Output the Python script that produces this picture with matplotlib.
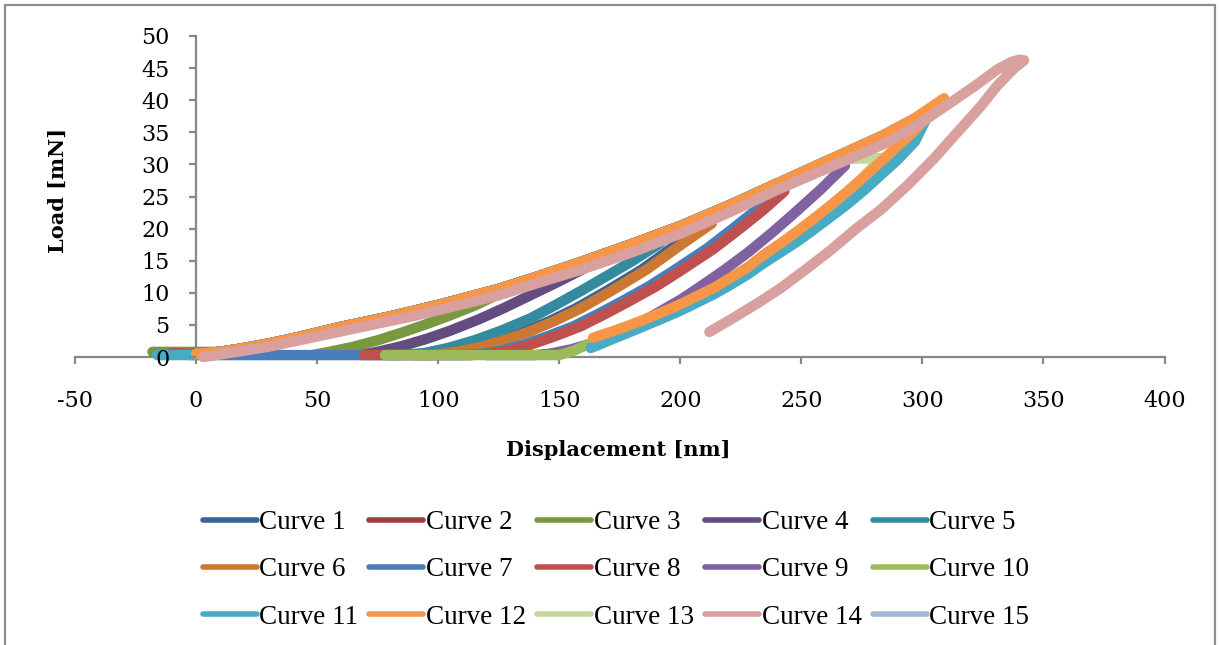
import matplotlib

matplotlib.use("Agg")
import matplotlib.pyplot as plt
from matplotlib.patches import Rectangle

# Upper loading branch shared by the indentation curves
LOAD_DISP = [0, 10, 20, 30, 40, 50, 60, 70, 80, 90, 100, 112, 125, 140, 159,
             180, 200, 220, 241, 262, 283, 296, 310]
LOAD_MN = [0.5, 0.8, 1.4, 2.1, 2.9, 3.8, 4.7, 5.5, 6.3, 7.2, 8.1, 9.3, 10.6,
           12.4, 14.8, 17.6, 20.4, 23.6, 27.2, 30.8, 34.4, 37.0, 40.3]

# Curve 14 has its own loading branch up to the deepest indent
C14_LOAD_DISP = [3, 10, 20, 30, 40, 50, 60, 70, 80, 90, 100, 112, 125, 140,
                 159, 180, 200, 220, 241, 262, 283, 296, 310, 322, 331, 337]
C14_LOAD_MN = [0.0, 0.4, 1.0, 1.6, 2.4, 3.2, 4.0, 4.8, 5.6, 6.4, 7.3, 8.4, 9.6,
               11.4, 13.6, 16.3, 19.2, 22.5, 26.2, 29.6, 33.0, 35.6, 39.2,
               42.3, 44.8, 46.0]

# Unloading branches, peak first
C1_DISP = [211, 198, 184, 170, 157, 146, 136, 126, 116, 106, 96]
C1_MN = [20.6, 17.4, 13.6, 10.4, 7.6, 5.6, 4.0, 2.7, 1.6, 0.8, 0.3]
C2_DISP = [242, 233, 223, 213, 199, 189, 178, 168, 158, 147, 137, 127, 118,
           112]
C2_MN = [25.6, 22.8, 19.8, 16.9, 13.4, 11.0, 8.7, 6.7, 4.8, 3.2, 1.9, 0.9,
         0.4, 0.3]
C3_DISP = [125, 115, 105, 95, 85, 75, 65, 55, 48]
C3_MN = [9.8, 8.0, 6.5, 5.1, 3.8, 2.6, 1.6, 0.8, 0.3]
C4_DISP = [163, 150, 138, 127, 117, 105, 95, 85, 76, 68]
C4_MN = [14.3, 11.8, 9.6, 7.6, 5.9, 4.1, 2.8, 1.7, 0.9, 0.3]
C5_DISP = [192, 180, 170, 159, 148, 138, 126, 115, 104, 94, 84]
C5_MN = [17.8, 14.9, 12.7, 10.3, 8.0, 6.0, 4.1, 2.6, 1.4, 0.6, 0.3]
C6_DISP = [213, 200, 186, 172, 159, 148, 138, 128, 118, 108, 98]
C6_MN = [20.8, 17.4, 13.6, 10.4, 7.6, 5.6, 4.0, 2.7, 1.6, 0.8, 0.3]
C7_DISP = [240, 231, 221, 211, 197, 187, 176, 166, 156, 145, 135, 125, 116,
           110]
C7_MN = [25.2, 22.8, 19.8, 16.9, 13.4, 11.0, 8.7, 6.7, 4.8, 3.2, 1.9, 0.9,
         0.4, 0.3]
C8_DISP = [243, 234, 224, 214, 200, 190, 179, 169, 159, 148, 138, 128, 119,
           113]
C8_MN = [25.8, 22.8, 19.8, 16.9, 13.4, 11.0, 8.7, 6.7, 4.8, 3.2, 1.9, 0.9,
         0.4, 0.3]
C9_DISP = [268, 258, 248, 238, 228, 218, 208, 200, 188, 175, 165, 155, 146,
           140]
C9_MN = [29.8, 26.1, 22.7, 19.4, 16.3, 13.5, 10.9, 8.9, 6.3, 3.8, 2.3, 1.2,
         0.5, 0.3]
C10_DISP = [296, 289, 283, 276, 269, 262, 255, 248, 241, 234, 228, 221, 214,
            207, 200, 192, 185, 178, 172, 164, 156, 150]
C10_MN = [36.0, 32.0, 29.5, 27.0, 24.8, 22.7, 20.6, 18.7, 16.9, 15.1, 13.5,
          11.8, 10.3, 9.0, 7.7, 6.4, 5.3, 4.2, 3.3, 2.3, 1.0, 0.3]
C11_DISP = [302, 297, 290, 283, 276, 269, 262, 255, 248, 241, 234, 228, 221,
            214, 207, 200, 192, 185, 178, 172, 167, 163]
C11_MN = [37.4, 33.6, 30.8, 28.4, 26.0, 23.8, 21.8, 19.8, 17.9, 16.2, 14.5,
          12.9, 11.3, 9.8, 8.5, 7.2, 5.9, 4.8, 3.7, 2.8, 2.0, 1.4]
C12_DISP = [309, 302, 296, 289, 283, 276, 269, 262, 255, 248, 241, 234, 228,
            221, 214, 207, 200, 192, 185, 178, 172, 168, 164]
C12_MN = [40.3, 37.4, 35.0, 32.6, 30.5, 28.1, 25.8, 23.6, 21.5, 19.5, 17.6,
          15.8, 14.0, 12.4, 10.8, 9.5, 8.2, 6.9, 5.8, 4.8, 4.0, 3.5, 3.0]
C13_DISP = [283, 270, 256, 242, 228, 214, 200, 186, 172]
C13_MN = [31.0, 25.8, 21.2, 17.2, 13.6, 10.2, 7.4, 5.0, 3.0]
C14_DISP = [340, 342, 338, 331, 324, 314, 305, 294, 283, 272, 262, 251, 241,
            232, 222, 212]
C14_MN = [46.3, 46.2, 45.0, 42.3, 39.0, 34.8, 31.0, 26.8, 23.0, 19.8, 16.6,
          13.4, 10.6, 8.4, 6.1, 3.9]
C15_DISP = [296, 285, 272, 258, 244, 230, 216, 202, 188, 174]
C15_MN = [35.0, 30.4, 25.8, 21.4, 17.6, 14.0, 10.8, 8.0, 5.5, 3.4]

# approach segments ahead of the loading branch: (displacement, load)
C2_START = [(-10, 0.6)]
C3_START = [(-18, 0.8), (5, 0.8)]
C8_START = [(-10, 0.6)]
C11_START = [(-16, 0.3), (0, 0.3)]

# tip retraction at zero load after unloading (None = data ends at last point)
TAILS = [None, None, None, None, 80, 90, -2, 69.5, 120, 78, None, None, None,
         None, None]

LABELS = [f"Curve {i}" for i in range(1, 16)]
COLORS = [
    "#3b6496", "#9c403c", "#7a9840", "#624c80", "#348a9e",
    "#cc7833", "#4a7ebb", "#c0504d", "#7e62a1", "#9bbb59",
    "#47abc6", "#f79646", "#c3d69b", "#d8a09e", "#a5b8d7",
]

UNLOAD = [
    (C1_DISP, C1_MN), (C2_DISP, C2_MN), (C3_DISP, C3_MN), (C4_DISP, C4_MN),
    (C5_DISP, C5_MN), (C6_DISP, C6_MN), (C7_DISP, C7_MN), (C8_DISP, C8_MN),
    (C9_DISP, C9_MN), (C10_DISP, C10_MN), (C11_DISP, C11_MN),
    (C12_DISP, C12_MN), (C13_DISP, C13_MN), (C14_DISP, C14_MN),
    (C15_DISP, C15_MN),
]
STARTS = {2: C2_START, 3: C3_START, 8: C8_START, 11: C11_START}


def build_curve(number):
    unload_disp, unload_mn = UNLOAD[number - 1]
    if number == 14:
        xs, ys = list(C14_LOAD_DISP), list(C14_LOAD_MN)
    else:
        start = STARTS.get(number, [])
        xs = [p[0] for p in start]
        ys = [p[1] for p in start]
        last = xs[-1] if xs else -1e9
        for d, m in zip(LOAD_DISP, LOAD_MN):
            if last < d < unload_disp[0]:
                xs.append(d)
                ys.append(m)
    xs += unload_disp
    ys += unload_mn
    tail = TAILS[number - 1]
    if tail is not None:
        xs += [unload_disp[-1] - 3, tail]
        ys += [0.3, 0.3]
    return xs, ys


plt.rcParams.update(
    {
        "font.family": ["DejaVu Serif"],
        "font.size": 16,
        "axes.unicode_minus": False,
    }
)

fig = plt.figure(figsize=(12.2, 6.45), dpi=100)
ax = fig.add_axes([75 / 1220, 1 - 357 / 645, 1089.5 / 1220, 321 / 645])

# pale curves sit underneath the rest
order = [13, 15] + [n for n in range(1, 16) if n not in (13, 15)]
for z, number in enumerate(order):
    xs, ys = build_curve(number)
    ax.plot(
        xs,
        ys,
        color=COLORS[number - 1],
        linewidth=7.5,
        solid_capstyle="round",
        solid_joinstyle="round",
        zorder=2 + z,
        clip_on=False,
    )

ax.set_xlim(-50, 400)
ax.set_ylim(0, 50)
ax.set_xticks(range(-50, 401, 50))
ax.set_yticks(range(0, 51, 5))

grey = "#878787"
for side in ("top", "right"):
    ax.spines[side].set_visible(False)
ax.spines["left"].set_position(("data", 0))
for side in ("left", "bottom"):
    ax.spines[side].set_color(grey)
    ax.spines[side].set_linewidth(1.6)
    ax.spines[side].set_zorder(1)
ax.tick_params(axis="both", direction="out", length=5, width=1.6, color=grey)
ax.tick_params(axis="x", pad=19)
ax.tick_params(axis="y", pad=14)
ax.yaxis.set_zorder(40)
ax.patch.set_visible(False)

ax.set_xlabel("Displacement [nm]", fontweight="bold", fontsize=15, va="center")
ax.xaxis.set_label_coords((618 - 75) / 1089.5, (357 - 450) / 321)
ax.set_ylabel("Load [mN]", fontweight="bold", fontsize=15, va="center")
ax.yaxis.set_label_coords((58 - 75) / 1089.5, (357 - 190) / 321)

# legend reads left to right, row by row
legend_handles = [
    plt.Line2D([], [], color=COLORS[i], linewidth=4, solid_capstyle="round")
    for i in range(15)
]
col_major = [r * 5 + c for c in range(5) for r in range(3)]
fig.legend(
    [legend_handles[i] for i in col_major],
    [LABELS[i] for i in col_major],
    loc="center",
    bbox_to_anchor=(616 / 1220, 1 - 570 / 645),
    ncol=5,
    frameon=False,
    prop={"family": "Liberation Serif", "size": 19.5},
    handlelength=2.0,
    handletextpad=0.1,
    columnspacing=0.4,
    labelspacing=0.82,
)

fig.patches.append(
    Rectangle(
        (5 / 1220, -0.02),
        1210 / 1220,
        1.02 - 5 / 645,
        transform=fig.transFigure,
        fill=False,
        edgecolor="#8e8e8e",
        linewidth=1.6,
    )
)

fig.savefig("out.png", dpi=100)
